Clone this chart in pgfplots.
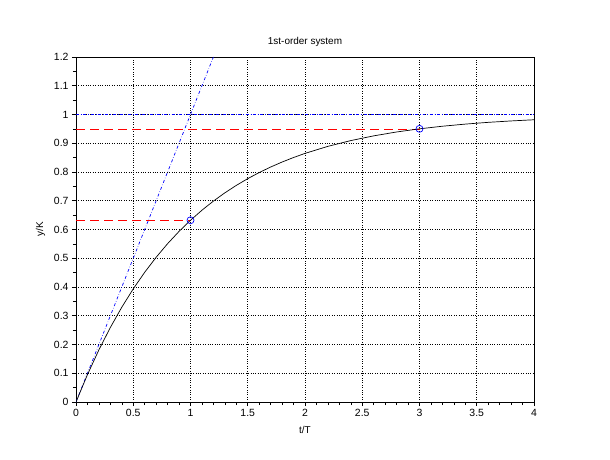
\documentclass[border=0pt]{standalone}
\usepackage{fontspec}
\setmainfont{Liberation Sans}
\usepackage{pgfplots}
\pgfplotsset{compat=1.18}

\begin{document}
\begin{tikzpicture}[x=1bp,y=1bp]
\useasboundingbox (-76bp,-58bp) rectangle (534bp,402bp);
\begin{axis}[
    scale only axis,
    width=458bp, height=345bp,
    at={(0,0)}, anchor=south west,
    xmin=0, xmax=4, ymin=0, ymax=1.2,
    xtick={0,0.5,...,4}, ytick={0,0.1,...,1.2},
    minor x tick num=4, minor y tick num=1,
    xticklabels={0,0.5,1,1.5,2,2.5,3,3.5,4},
    yticklabels={0,0.1,0.2,0.3,0.4,0.5,0.6,0.7,0.8,0.9,1,1.1,1.2},
    tick align=outside, tick pos=left,
    major tick length=4bp, minor tick length=3bp,
    grid=major,
    major grid style={black, dotted, line width=0.8pt},
    axis line style={black, line width=0.9pt},
    tick style={black, line width=0.6pt},
    /pgf/number format/assume math mode=true,
    tick label style={font=\fontsize{10.5}{12}\selectfont},
    title={1st-order system},
    title style={font=\fontsize{10}{12}\selectfont, yshift=1bp},
    xlabel={t/T}, ylabel={y/K},
    label style={font=\fontsize{10}{12}\selectfont},
    xlabel style={yshift=-3bp},
    ylabel style={yshift=2bp},
]
% reference levels
\addplot[blue, dash dot, line width=0.6pt] coordinates {(0,1) (4,1)};
\addplot[red, dash pattern=on 9bp off 5bp, line width=0.6pt] coordinates {(0,0.95) (3,0.95)};
\addplot[red, dash pattern=on 9bp off 5bp, line width=1pt] coordinates {(0,0.6321) (1,0.6321)};
% tangent at origin
\addplot[blue, dash dot, line width=0.7pt] coordinates {(0,0) (1.2,1.2)};
% step response
\addplot[black, line width=0.7pt] coordinates {
 (0,0) (0.1,0.0952) (0.2,0.1813) (0.3,0.2592) (0.4,0.3297) (0.5,0.3935)
 (0.6,0.4512) (0.7,0.5034) (0.8,0.5507) (0.9,0.5934) (1.0,0.6321)
 (1.1,0.6671) (1.2,0.6988) (1.3,0.7275) (1.4,0.7534) (1.5,0.7769)
 (1.6,0.7981) (1.7,0.8173) (1.8,0.8347) (1.9,0.8504) (2.0,0.8647)
 (2.2,0.8892) (2.4,0.9093) (2.6,0.9257) (2.8,0.9392) (3.0,0.9502)
 (3.2,0.9592) (3.4,0.9666) (3.6,0.9727) (3.8,0.9776) (4.0,0.9817)
};
% marked points
\addplot[only marks, blue, mark=o, mark size=3.5bp, line width=0.7pt] coordinates {(1,0.6321) (3,0.9502)};
\end{axis}
\end{tikzpicture}
\end{document}
